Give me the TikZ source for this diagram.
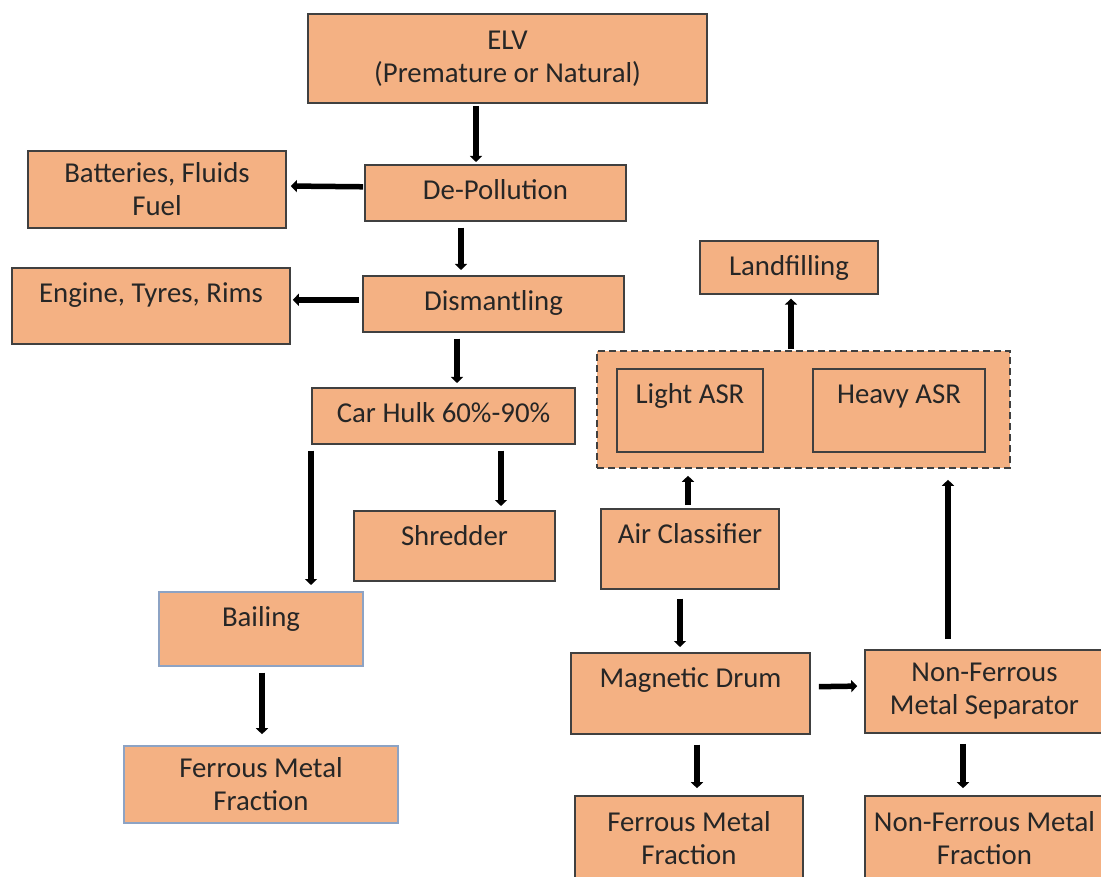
\documentclass[tikz,border=0pt]{standalone}
\usepackage{fontspec}
\setmainfont{Carlito}
\usetikzlibrary{arrows.meta}

\definecolor{boxfill}{HTML}{F4B183}
\definecolor{boxline}{HTML}{404040}
\definecolor{blueline}{HTML}{8DA3C4}

\tikzset{
  box/.style={draw=boxline, line width=1.6pt, fill=boxfill, text=black!85,
    font=\fontsize{28.8}{33}\selectfont, inner sep=0pt},
  topbox/.style={box, anchor=north, minimum height=0pt, text height=35pt, text depth=#1},
  arr/.style={line width=5.5pt, -{Triangle[length=6pt,width=12pt]}, shorten <=6pt, shorten >=5pt},
}

\begin{document}
\begin{tikzpicture}[x=1pt, y=-1pt]
				\useasboundingbox (0,0) rectangle (1101,877);
				\node[box, align=center, minimum width=399pt, minimum height=89pt] (elv) at (507.5,58.5) {ELV\\(Premature or Natural)};
				\node[box, align=center, minimum width=258pt, minimum height=77pt] (bat) at (157,189.5) {Batteries, Fluids\\Fuel};
				\node[topbox=21pt, minimum width=261pt] (dep) at (495.5,164) {De-Pollution};
				\node[topbox=21pt, minimum width=261pt] (dis) at (493.5,275) {Dismantling};
				\node[topbox=41pt, minimum width=278pt] (eng) at (151,267) {Engine, Tyres, Rims};
				\node[topbox=21pt, minimum width=263pt] (hulk) at (443.5,387) {Car Hulk 60\%-90\%};
				\node[topbox=35pt, minimum width=201pt] (shr) at (454.5,510) {Shredder};
				\node[topbox=39pt, minimum width=204pt, draw=blueline] (bal) at (261,591) {Bailing};
				\node[box, align=center, minimum width=274pt, minimum height=77pt, draw=blueline] (ffl) at (261,784.5) {Ferrous Metal\\Fraction};
				\node[topbox=18pt, minimum width=178pt] (land) at (789,240) {Landfilling};
				\node[box, dashed, dash pattern=on 7pt off 4pt, minimum width=413pt, minimum height=117pt] (asr) at (803.5,409.5) {};
				\node[topbox=48pt, minimum width=146pt] (lasr) at (690,368) {Light ASR};
				\node[topbox=48pt, minimum width=172pt] (hasr) at (899,368) {Heavy ASR};
				\node[topbox=45pt, minimum width=178pt] (air) at (690,508) {Air Classifier};
				\node[topbox=46pt, minimum width=239pt] (mag) at (690.5,652) {Magnetic Drum};
				\node[box, align=center, minimum width=239pt, minimum height=83pt] (nfs) at (984.5,691.5) {Non-Ferrous\\Metal Separator};
				\node[box, align=center, minimum width=228pt, minimum height=84pt] (ffr) at (689,838) {Ferrous Metal\\Fraction};
				\node[box, align=center, minimum width=239pt, minimum height=84pt] (nff) at (984.5,838) {Non-Ferrous Metal\\Fraction};
				\draw[arr, shorten <=2pt, shorten >=2pt] ([xshift=-31.5pt]elv.south) -- ([xshift=-19.5pt]dep.north);
				\draw[arr, shorten <=1pt, shorten >=4pt] ([yshift=6pt]dep.west) -- ([yshift=3.5pt]bat.east);
				\draw[arr] ([xshift=-34.5pt]dep.south) -- ([xshift=-32.5pt]dis.north);
				\draw[arr, shorten <=3pt, shorten >=2pt] ([yshift=4pt]dis.west) -- ([yshift=6pt]eng.east);
				\draw[arr, shorten >=4pt] ([xshift=-36.5pt]dis.south) -- ([xshift=13.5pt]hulk.north);
				\draw[arr, shorten >=6pt] ([xshift=-132.5pt]hulk.south) -- ([xshift=50pt]bal.north);
				\draw[arr, shorten >=4pt] ([xshift=57.5pt]hulk.south) -- ([xshift=46.5pt]shr.north);
				\draw[arr, shorten >=11pt] ([xshift=1pt]bal.south) -- ([xshift=1pt]ffl.north);
				\draw[arr, shorten <=3pt, shorten >=7pt] ([xshift=-2pt]air.north) -- ([xshift=-115.5pt]asr.south);
				\draw[arr, shorten <=9pt] ([xshift=-10pt]air.south) -- ([xshift=-10.5pt]mag.north);
				\draw[arr, shorten <=8pt, shorten >=7pt] ([yshift=6.5pt]mag.east) -- ([yshift=5.5pt]nfs.west);
				\draw[arr, shorten <=10pt, shorten >=11pt] ([xshift=-36.5pt]nfs.north) -- ([xshift=144.5pt]asr.south);
				\draw[arr, shorten <=1pt, shorten >=4pt] ([xshift=-12.5pt]asr.north) -- ([xshift=2pt]land.south);
				\draw[arr, shorten <=10pt, shorten >=7pt] ([xshift=6.5pt]mag.south) -- ([xshift=8pt]ffr.north);
				\draw[arr, shorten <=10pt, shorten >=7pt] ([xshift=-21.5pt]nfs.south) -- ([xshift=-21.5pt]nff.north);
\end{tikzpicture}
\end{document}
